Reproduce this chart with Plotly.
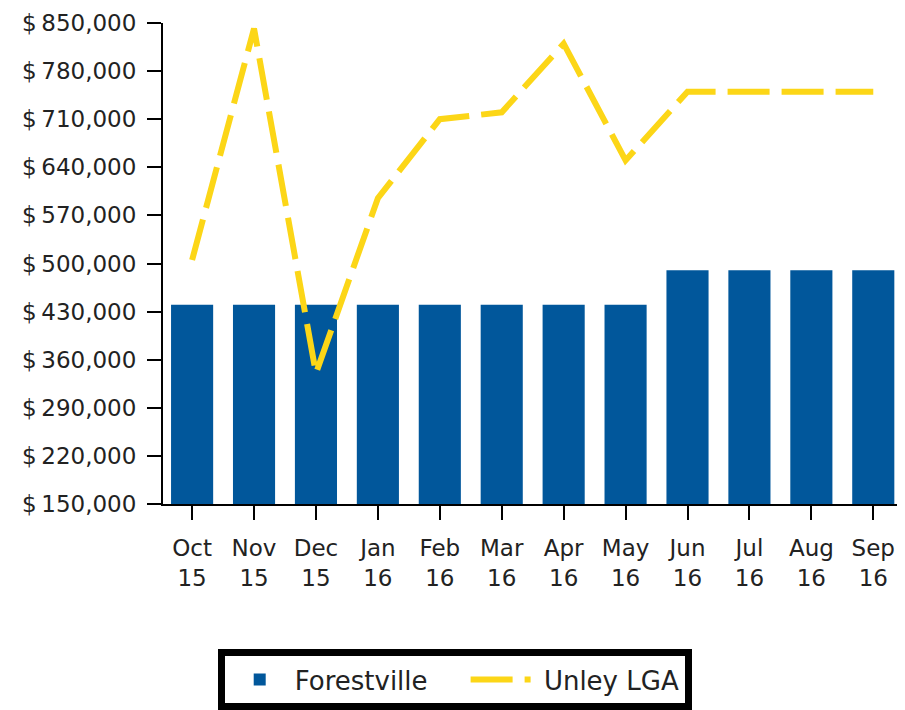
import plotly.graph_objects as go

months = ["Oct<br>15", "Nov<br>15", "Dec<br>15", "Jan<br>16", "Feb<br>16", "Mar<br>16",
          "Apr<br>16", "May<br>16", "Jun<br>16", "Jul<br>16", "Aug<br>16", "Sep<br>16"]
forestville = [440000, 440000, 440000, 440000, 440000, 440000,
               440000, 440000, 490000, 490000, 490000, 490000]
unley_lga = [505000, 842000, 340000, 595000, 710000, 720000,
             820000, 650000, 750000, 750000, 750000, 750000]
y_ticks = [150000, 220000, 290000, 360000, 430000, 500000, 570000, 640000, 710000, 780000, 850000]
y_ticktext = ["$\u2009" + f"{v:,}" for v in y_ticks]

FONT = "DejaVu Sans"
FS = 23
TXT = "#222222"
NB = "\u00a0"

fig = go.Figure()
fig.add_trace(go.Bar(
    x=months, y=forestville, name="Forestville" + NB * 4,
    marker=dict(color="#01579B", line=dict(width=0)),
    width=0.68,
))
fig.add_trace(go.Scatter(
    x=months, y=unley_lga, name=NB + "Unley LGA", mode="lines",
    line=dict(color="#FCD617", width=6, dash="42px,12px"),
    cliponaxis=False,
))

# page body has an 8px margin, so the figure is sized/offset to compensate
fig.update_layout(
    width=897, height=702,
    margin=dict(l=155, r=2, t=13, b=206),
    paper_bgcolor="white", plot_bgcolor="white",
    font=dict(family=FONT, size=FS, color=TXT),
    showlegend=True,
    legend=dict(
        orientation="h", xref="container", yref="container",
        x=0.498, xanchor="center", y=0.0, yanchor="bottom",
        bordercolor="black", borderwidth=7, bgcolor="white",
        font=dict(family=FONT, size=26, color=TXT),
        itemwidth=60,
    ),
    xaxis=dict(
        type="category", range=[-0.47, 11.48],
        showline=True, linecolor="black", linewidth=2,
        ticks="outside", ticklen=14, tickwidth=2, tickcolor="black",
        ticklabelstandoff=8,
        showgrid=False, zeroline=False,
        tickfont=dict(family=FONT, size=FS, color=TXT),
    ),
    yaxis=dict(
        range=[150000, 850000],
        tickvals=y_ticks, ticktext=y_ticktext,
        showline=True, linecolor="black", linewidth=2,
        ticks="outside", ticklen=14, tickwidth=2, tickcolor="black",
        ticklabelstandoff=6,
        showgrid=False, zeroline=False,
        tickfont=dict(family=FONT, size=FS, color=TXT),
    ),
)

fig.write_html("out.html")
